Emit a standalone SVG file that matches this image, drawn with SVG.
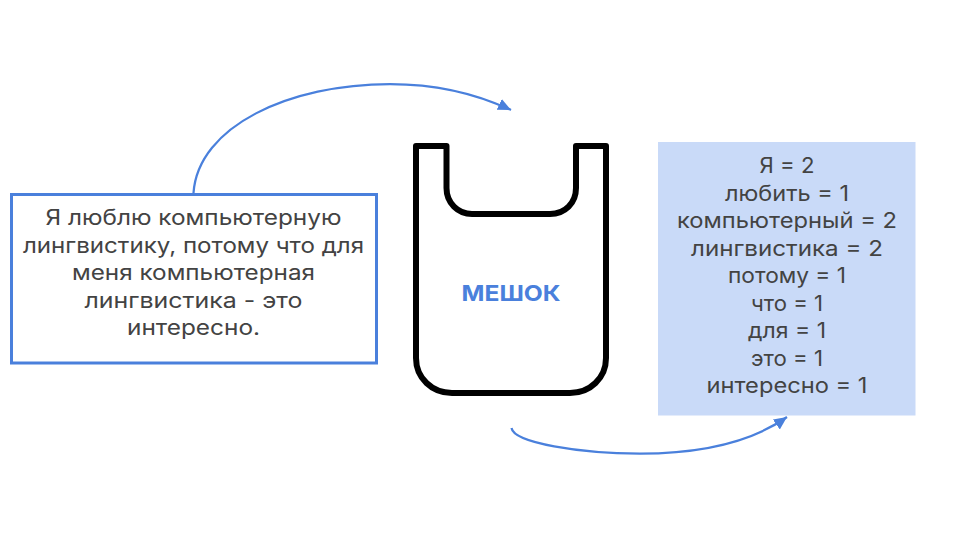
<svg xmlns="http://www.w3.org/2000/svg" width="960" height="540" viewBox="0 0 960 540">
<style>
text{font-family:"Inter","Open Sans","Liberation Sans",sans-serif;text-anchor:middle;font-size:21px;fill:#434343}
.c{fill:none;stroke:#4a80dc;stroke-width:2.25}
</style>
<defs>
<marker id="a" markerUnits="userSpaceOnUse" markerWidth="14" markerHeight="14" refX="13" refY="6" orient="auto"><path d="M0 0L13 6L0 12Z" fill="#4a80dc"/></marker>
</defs>
<rect width="960" height="540" fill="#fff"/>
<g id="connectors">
<path class="c" marker-end="url(#a)" d="M193.500 193C198 126 290 84 390 84C435 84 475 93 511 110"/>
<path class="c" marker-end="url(#a)" d="M511.500 428C514 443 580 453.500 640 453.500C700 453.500 750 443 787 417"/>
</g>
<g id="text-box">
<rect x="11.500" y="194.500" width="365" height="168.500" fill="#fff" stroke="#4a80dc" stroke-width="3"/>
<text x="193.500" y="225" textLength="296" lengthAdjust="spacingAndGlyphs">Я люблю компьютерную</text>
<text x="193.500" y="252.500" textLength="341" lengthAdjust="spacingAndGlyphs">лингвистику, потому что для</text>
<text x="193.500" y="280" textLength="243" lengthAdjust="spacingAndGlyphs">меня компьютерная</text>
<text x="193.500" y="307.500" textLength="218" lengthAdjust="spacingAndGlyphs">лингвистика - это</text>
<text x="193.500" y="335" textLength="133" lengthAdjust="spacingAndGlyphs">интересно.</text>
</g>
<g id="bag">
<path d="M416 146H446.500V188C446.500 203 458 214 472 214H550C565 214 576 203 576 188V146H606V358C606 378 590 393 570 393H452C432 393 416 378 416 358Z" fill="#fff" stroke="#000" stroke-width="6" stroke-linejoin="round"/>
<text x="511" y="301" style="font-weight:700;fill:#4a80dc;font-size:22px" textLength="99" lengthAdjust="spacingAndGlyphs">МЕШОК</text>
</g>
<g id="counts">
<rect x="658" y="142" width="257.500" height="273.500" fill="#c9daf8"/>
<text x="787" y="173" textLength="55" lengthAdjust="spacingAndGlyphs">Я = 2</text>
<text x="787" y="200.500" textLength="124" lengthAdjust="spacingAndGlyphs">любить = 1</text>
<text x="787" y="228" textLength="220" lengthAdjust="spacingAndGlyphs">компьютерный = 2</text>
<text x="787" y="255.500" textLength="192" lengthAdjust="spacingAndGlyphs">лингвистика = 2</text>
<text x="787" y="283" textLength="118" lengthAdjust="spacingAndGlyphs">потому = 1</text>
<text x="787" y="310.500" textLength="72" lengthAdjust="spacingAndGlyphs">что = 1</text>
<text x="787" y="338" textLength="78" lengthAdjust="spacingAndGlyphs">для = 1</text>
<text x="787" y="365.500" textLength="72" lengthAdjust="spacingAndGlyphs">это = 1</text>
<text x="787" y="393" textLength="161" lengthAdjust="spacingAndGlyphs">интересно = 1</text>
</g>
</svg>
